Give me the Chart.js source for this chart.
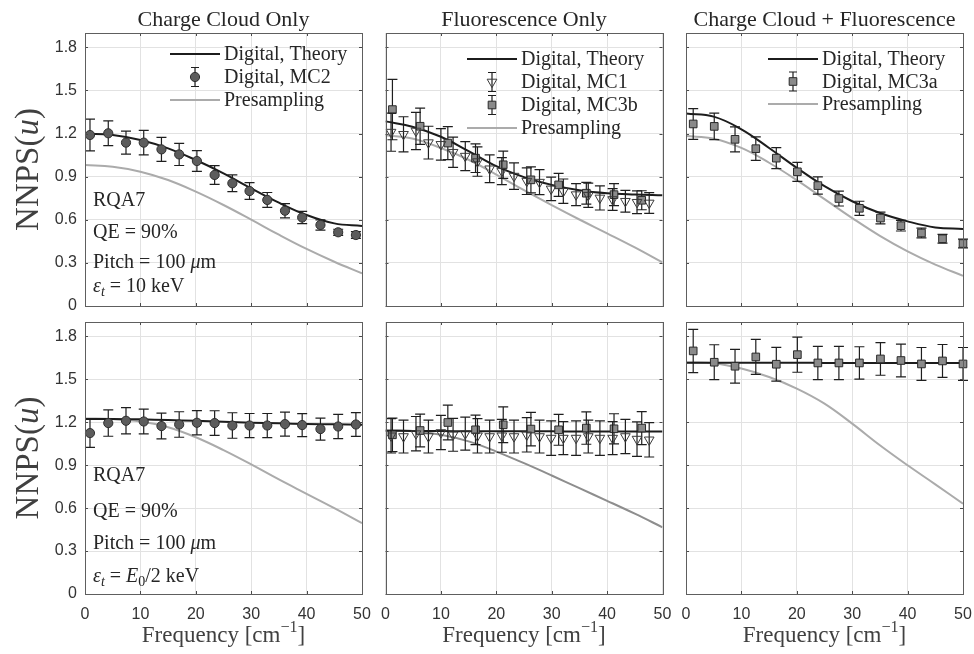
<!DOCTYPE html>
<html>
<head>
<meta charset="utf-8">
<script src="https://cdn.jsdelivr.net/npm/chart.js@4/dist/chart.umd.min.js"></script>
<style>
  html, body { margin: 0; padding: 0; background: #ffffff; }
  #wrap { position: relative; width: 974px; height: 654px; overflow: hidden; background: #fff; }
  #wrap canvas { position: absolute; left: 0; top: 0; }
</style>
</head>
<body>
<div id="wrap"></div>
<script>
// ---------------- DATA ----------------
const xTickValues = [0, 10, 20, 30, 40, 50];
const yTickValues = [0, 0.3, 0.6, 0.9, 1.2, 1.5, 1.8];
const columnTitles = ['Charge Cloud Only', 'Fluorescence Only', 'Charge Cloud + Fluorescence'];

// frequency grid of the smooth curves
const curveFreq = [0, 5, 10, 15, 20, 25, 30, 35, 40, 45, 50];

// MC sample frequencies
const mc2Freq  = [0.9, 4.2, 7.4, 10.6, 13.8, 17.0, 20.2, 23.4, 26.6, 29.7, 32.9, 36.1, 39.2, 42.5, 45.7, 48.9];
const mc1Freq  = [1.0, 3.25, 5.5, 7.75, 10.0, 12.2, 14.4, 16.6, 18.8, 21.0, 23.2, 25.5, 27.8, 29.9, 32.1, 34.4, 36.6, 38.7, 41.0, 43.3, 45.4, 47.6];
const mc3bFreq = [1.25, 6.25, 11.25, 16.25, 21.25, 26.25, 31.25, 36.25, 41.25, 46.25];
const mc3aFreq = [1.3, 5.1, 8.85, 12.6, 16.3, 20.1, 23.8, 27.6, 31.3, 35.1, 38.8, 42.5, 46.3, 50.0];

// Top row: eps_t = 10 keV
const ccTheory       = [1.198, 1.19, 1.155, 1.097, 1.016, 0.923, 0.819, 0.719, 0.633, 0.575, 0.557];
const ccPresampling  = [0.981, 0.969, 0.935, 0.877, 0.796, 0.703, 0.601, 0.496, 0.397, 0.308, 0.227];
const ccMC2          = [1.19, 1.202, 1.137, 1.137, 1.09, 1.055, 1.009, 0.912, 0.854, 0.8, 0.738, 0.663, 0.616, 0.564, 0.513, 0.494];
const ccMC2Err       = [0.11, 0.086, 0.08, 0.085, 0.084, 0.077, 0.072, 0.065, 0.058, 0.058, 0.052, 0.049, 0.042, 0.036, 0.021, 0.023];

const flTheory       = [1.285, 1.246, 1.178, 1.078, 0.973, 0.897, 0.843, 0.806, 0.785, 0.776, 0.771];
const flPresampling  = [1.188, 1.164, 1.10, 1.018, 0.915, 0.806, 0.702, 0.602, 0.506, 0.408, 0.303];
const flMC1          = [1.21, 1.195, 1.218, 1.137, 1.125, 1.07, 1.043, 1.005, 0.955, 0.939, 0.904, 0.869, 0.862, 0.815, 0.799, 0.775, 0.771, 0.752, 0.741, 0.729, 0.722, 0.717];
const flMC1Err       = [0.133, 0.122, 0.13, 0.114, 0.11, 0.105, 0.101, 0.102, 0.097, 0.094, 0.092, 0.093, 0.087, 0.082, 0.085, 0.076, 0.084, 0.084, 0.076, 0.076, 0.079, 0.072];
const flMC3b         = [1.367, 1.251, 1.134, 1.029, 0.983, 0.878, 0.843, 0.785, 0.775, 0.736];
const flMC3bErr      = [0.21, 0.126, 0.115, 0.1, 0.095, 0.09, 0.08, 0.076, 0.076, 0.066];

const bothTheory      = [1.339, 1.318, 1.23, 1.10, 0.962, 0.834, 0.729, 0.647, 0.589, 0.547, 0.536];
const bothPresampling = [1.183, 1.164, 1.10, 0.997, 0.876, 0.744, 0.612, 0.488, 0.38, 0.288, 0.21];
const bothMC3a        = [1.267, 1.25, 1.16, 1.095, 1.029, 0.934, 0.838, 0.748, 0.68, 0.612, 0.559, 0.508, 0.468, 0.435];
const bothMC3aErr     = [0.107, 0.092, 0.087, 0.082, 0.073, 0.066, 0.06, 0.052, 0.049, 0.041, 0.037, 0.034, 0.03, 0.031];

// Bottom row: eps_t = E0/2 keV
const ccE0Theory      = [1.222, 1.222, 1.22, 1.215, 1.21, 1.203, 1.197, 1.192, 1.188, 1.185, 1.182];
const ccE0Presampling = [1.226, 1.222, 1.205, 1.165, 1.095, 1.005, 0.905, 0.8, 0.7, 0.6, 0.495];
const ccE0MC2         = [1.124, 1.194, 1.21, 1.205, 1.173, 1.184, 1.196, 1.194, 1.177, 1.177, 1.177, 1.187, 1.18, 1.152, 1.17, 1.184];
const ccE0MC2Err      = [0.1, 0.092, 0.092, 0.087, 0.09, 0.089, 0.085, 0.086, 0.089, 0.084, 0.084, 0.084, 0.08, 0.077, 0.085, 0.083];

const flE0Theory      = [1.14, 1.139, 1.138, 1.137, 1.137, 1.136, 1.136, 1.135, 1.135, 1.135, 1.135];
const flE0Presampling = [1.142, 1.138, 1.112, 1.066, 0.995, 0.914, 0.828, 0.739, 0.651, 0.561, 0.466];
const flE0MC1         = [1.105, 1.10, 1.12, 1.10, 1.128, 1.112, 1.12, 1.105, 1.10, 1.105, 1.10, 1.112, 1.10, 1.089, 1.089, 1.089, 1.10, 1.089, 1.089, 1.10, 1.082, 1.077];
const flE0MC1Err      = [0.12, 0.115, 0.12, 0.115, 0.12, 0.115, 0.115, 0.12, 0.115, 0.115, 0.115, 0.12, 0.115, 0.12, 0.115, 0.12, 0.115, 0.12, 0.115, 0.12, 0.12, 0.12];
const flE0MC3b        = [1.112, 1.142, 1.198, 1.147, 1.182, 1.152, 1.147, 1.159, 1.154, 1.159];
const flE0MC3bErr     = [0.117, 0.114, 0.122, 0.103, 0.125, 0.117, 0.108, 0.113, 0.105, 0.115];

const bothE0Theory      = [1.616, 1.616, 1.615, 1.615, 1.615, 1.614, 1.614, 1.614, 1.614, 1.614, 1.614];
const bothE0Presampling = [1.617, 1.612, 1.575, 1.516, 1.435, 1.33, 1.19, 1.039, 0.899, 0.766, 0.631];
const bothE0MC3a        = [1.698, 1.619, 1.591, 1.656, 1.605, 1.672, 1.614, 1.614, 1.614, 1.642, 1.631, 1.607, 1.628, 1.607];
const bothE0MC3aErr     = [0.151, 0.122, 0.118, 0.122, 0.118, 0.123, 0.116, 0.116, 0.113, 0.114, 0.114, 0.115, 0.115, 0.115];

// ---------------- STYLE / LAYOUT ----------------
const W = 974, H = 654;
const colL = [85, 385.5, 686], colR = [362, 662.5, 963];
const rowT = [33, 322], rowB = [306, 594];
const Y_AXIS_W = 50, X_AXIS_H = 40;
const SERIF = "'Liberation Serif', 'Times New Roman', serif";
const SANS = "'Liberation Sans', Arial, sans-serif";
const TXT = '#262626';

const styles = {
  circle: { pointStyle: 'circle', radius: 4.6, fill: '#5c5c5c', stroke: '#2e2e2e', rotation: 0 },
  rect:   { pointStyle: 'rect', radius: 5.4, fill: '#8a8a8a', stroke: '#2a2a2a', rotation: 0 },
  tri:    { pointStyle: 'triangle', radius: 5.6, fill: 'rgba(255,255,255,0)', stroke: '#3a3a3a', rotation: 180 }
};

const zip = (xs, ys) => xs.map((x, i) => ({ x: x, y: ys[i] }));

const notesTop = [
  { b: 206, parts: ['RQA7'] },
  { b: 238, parts: ['QE = 90%'] },
  { b: 268, parts: ['Pitch = 100 ', { t: 'μ', it: true }, 'm'] },
  { b: 292, parts: [{ t: 'ε', it: true }, { t: 't', it: true, sub: true }, ' = 10 keV'] }
];
const notesBottom = [
  { b: 481, parts: ['RQA7'] },
  { b: 517, parts: ['QE = 90%'] },
  { b: 549, parts: ['Pitch = 100 ', { t: 'μ', it: true }, 'm'] },
  { b: 582, parts: [{ t: 'ε', it: true }, { t: 't', it: true, sub: true }, ' = ', { t: 'E', it: true }, { t: '0', sub: true }, '/2 keV'] }
];

const panels = [
  { col: 0, row: 0, theory: ccTheory, pres: ccPresampling, presColor: '#ababab',
    series: [{ label: 'Digital, MC2', x: mc2Freq, y: ccMC2, err: ccMC2Err, style: 'circle' }],
    legend: { x: 170, y: 54, gap: 23 }, notes: notesTop },
  { col: 1, row: 0, theory: flTheory, pres: flPresampling, presColor: '#ababab',
    series: [{ label: 'Digital, MC1', x: mc1Freq, y: flMC1, err: flMC1Err, style: 'tri' },
             { label: 'Digital, MC3b', x: mc3bFreq, y: flMC3b, err: flMC3bErr, style: 'rect' }],
    legend: { x: 467, y: 59, gap: 23 } },
  { col: 2, row: 0, theory: bothTheory, pres: bothPresampling, presColor: '#ababab',
    series: [{ label: 'Digital, MC3a', x: mc3aFreq, y: bothMC3a, err: bothMC3aErr, style: 'rect' }],
    legend: { x: 768, y: 59, gap: 22.5 } },
  { col: 0, row: 1, theory: ccE0Theory, pres: ccE0Presampling, presColor: '#ababab',
    series: [{ label: 'Digital, MC2', x: mc2Freq, y: ccE0MC2, err: ccE0MC2Err, style: 'circle' }],
    notes: notesBottom },
  { col: 1, row: 1, theory: flE0Theory, pres: flE0Presampling, presColor: '#8e8e8e',
    series: [{ label: 'Digital, MC1', x: mc1Freq, y: flE0MC1, err: flE0MC1Err, style: 'tri' },
             { label: 'Digital, MC3b', x: mc3bFreq, y: flE0MC3b, err: flE0MC3bErr, style: 'rect' }] },
  { col: 2, row: 1, theory: bothE0Theory, pres: bothE0Presampling, presColor: '#ababab',
    series: [{ label: 'Digital, MC3a', x: mc3aFreq, y: bothE0MC3a, err: bothE0MC3aErr, style: 'rect' }] }
];

// ---------------- HELPERS ----------------
function drawRich(ctx, parts, x, y, size, align, color) {
  const segs = parts.map(p => {
    const s = (typeof p === 'string') ? { t: p } : p;
    const fs = (s.sub || s.sup) ? size * 0.7 : size;
    const font = (s.it ? 'italic ' : '') + fs + 'px ' + SERIF;
    ctx.font = font;
    return Object.assign({}, s, { fs: fs, font: font, w: ctx.measureText(s.t).width });
  });
  const total = segs.reduce((a, s) => a + s.w, 0);
  let cx = align === 'center' ? x - total / 2 : (align === 'right' ? x - total : x);
  ctx.textAlign = 'left';
  ctx.textBaseline = 'alphabetic';
  ctx.fillStyle = color;
  segs.forEach(s => {
    ctx.font = s.font;
    const dy = s.sub ? size * 0.22 : (s.sup ? -size * 0.42 : 0);
    ctx.fillText(s.t, cx, y + dy);
    cx += s.w;
  });
}

function drawMarker(ctx, st, x, y) {
  ctx.save();
  ctx.fillStyle = st.fill;
  ctx.strokeStyle = st.stroke;
  ctx.lineWidth = 1;
  ctx.beginPath();
  if (st.pointStyle === 'circle') {
    ctx.arc(x, y, st.radius, 0, Math.PI * 2);
  } else if (st.pointStyle === 'rect') {
    const h = st.radius * Math.SQRT1_2;
    ctx.rect(x - h, y - h, 2 * h, 2 * h);
  } else {
    const r = st.radius;
    ctx.moveTo(x, y + r);
    ctx.lineTo(x - r * Math.sin(Math.PI / 3), y - r * 0.5);
    ctx.lineTo(x + r * Math.sin(Math.PI / 3), y - r * 0.5);
    ctx.closePath();
  }
  ctx.fill();
  ctx.stroke();
  ctx.restore();
}

function drawErrBar(ctx, x, yLo, yHi, cap) {
  ctx.beginPath();
  ctx.moveTo(x, yLo); ctx.lineTo(x, yHi);
  ctx.moveTo(x - cap, yLo); ctx.lineTo(x + cap, yLo);
  ctx.moveTo(x - cap, yHi); ctx.lineTo(x + cap, yHi);
  ctx.stroke();
}

const fmt = v => (Math.abs(v) < 1e-9 ? '0' : v.toFixed(1));

// ---------------- BUILD ----------------
const wrap = document.getElementById('wrap');

panels.forEach((p, pi) => {
  const L = colL[p.col], R = colR[p.col], T = rowT[p.row], B = rowB[p.row];
  const canvas = document.createElement('canvas');
  canvas.width = W; canvas.height = H;
  canvas.style.width = W + 'px'; canvas.style.height = H + 'px';
  wrap.appendChild(canvas);

  const datasets = [];
  p.series.forEach(s => {
    const st = styles[s.style];
    datasets.push({
      label: s.label,
      data: zip(s.x, s.y),
      errors: s.err,
      showLine: false,
      pointStyle: st.pointStyle,
      pointRotation: st.rotation,
      pointRadius: st.radius,
      pointBackgroundColor: st.fill,
      pointBorderColor: st.stroke,
      pointBorderWidth: 1,
      clip: false
    });
  });
  datasets.push({
    label: 'Digital, Theory',
    data: zip(curveFreq, p.theory),
    showLine: true, pointRadius: 0, borderColor: '#1c1c1c', borderWidth: 2,
    tension: 0.4, fill: false
  });
  datasets.push({
    label: 'Presampling',
    data: zip(curveFreq, p.pres),
    showLine: true, pointRadius: 0, borderColor: p.presColor, borderWidth: 2,
    tension: 0.4, fill: false
  });

  const decor = {
    id: 'decor' + pi,
    beforeDatasetDraw(chart, args) {
      const ds = chart.data.datasets[args.index];
      if (!ds.errors) return;
      const xs = chart.scales.x, ys = chart.scales.y, ctx = chart.ctx;
      ctx.save();
      ctx.strokeStyle = '#1e1e1e';
      ctx.lineWidth = 1.2;
      ds.data.forEach((pt, i) => {
        const px = xs.getPixelForValue(pt.x);
        drawErrBar(ctx, px, ys.getPixelForValue(pt.y - ds.errors[i]), ys.getPixelForValue(pt.y + ds.errors[i]), 5);
      });
      ctx.restore();
    },
    afterDraw(chart) {
      const ctx = chart.ctx, a = chart.chartArea, xs = chart.scales.x, ys = chart.scales.y;
      ctx.save();
      // inward ticks
      ctx.strokeStyle = '#4a4a4a';
      ctx.lineWidth = 1;
      ctx.beginPath();
      xTickValues.forEach(v => {
        const px = Math.round(xs.getPixelForValue(v)) + 0.5;
        ctx.moveTo(px, a.bottom); ctx.lineTo(px, a.bottom - 3);
        ctx.moveTo(px, a.top); ctx.lineTo(px, a.top + 3);
      });
      yTickValues.forEach(v => {
        const py = Math.round(ys.getPixelForValue(v)) + 0.5;
        ctx.moveTo(a.left, py); ctx.lineTo(a.left + 3, py);
        ctx.moveTo(a.right, py); ctx.lineTo(a.right - 3, py);
      });
      ctx.stroke();
      // box
      ctx.strokeStyle = '#5e5e5e';
      ctx.strokeRect(Math.round(a.left) + 0.5, Math.round(a.top) + 0.5, Math.round(a.right - a.left), Math.round(a.bottom - a.top));

      // column title
      if (p.row === 0) {
        drawRich(ctx, [columnTitles[p.col]], (a.left + a.right) / 2, T - 7, 22, 'center', TXT);
      }
      // y title
      if (p.col === 0) {
        ctx.save();
        ctx.translate(38, (a.top + a.bottom) / 2);
        ctx.rotate(-Math.PI / 2);
        drawRich(ctx, ['NNPS(', { t: 'u', it: true }, ')'], 0, 0, 33, 'center', '#404040');
        ctx.restore();
      }
      // x title
      if (p.row === 1) {
        drawRich(ctx, ['Frequency [cm', { t: '−1', sup: true }, ']'], (a.left + a.right) / 2, 642, 23, 'center', '#404040');
      }
      // notes
      if (p.notes) {
        p.notes.forEach(n => drawRich(ctx, n.parts, 93, n.b, 20, 'left', TXT));
      }
      // legend
      if (p.legend) {
        const lg = p.legend;
        const items = [{ kind: 'line', color: '#1c1c1c', label: 'Digital, Theory' }];
        p.series.forEach(s => items.push({ kind: 'marker', style: styles[s.style], label: s.label }));
        items.push({ kind: 'line', color: p.presColor, label: 'Presampling' });
        items.forEach((it, k) => {
          const cy = lg.y + k * lg.gap;
          if (it.kind === 'line') {
            ctx.strokeStyle = it.color; ctx.lineWidth = 2;
            ctx.beginPath(); ctx.moveTo(lg.x, cy); ctx.lineTo(lg.x + 50, cy); ctx.stroke();
          } else {
            const mx = lg.x + 25;
            ctx.strokeStyle = '#1e1e1e'; ctx.lineWidth = 1.2;
            drawErrBar(ctx, mx, cy + 9.5, cy - 9.5, 4);
            drawMarker(ctx, it.style, mx, cy);
          }
          drawRich(ctx, [it.label], lg.x + 54, cy + 6, 20, 'left', TXT);
        });
      }
      ctx.restore();
    }
  };

  new Chart(canvas, {
    type: 'scatter',
    data: { datasets: datasets },
    options: {
      responsive: false,
      animation: false,
      devicePixelRatio: 1,
      events: [],
      layout: { padding: { left: L - Y_AXIS_W, right: W - R, top: T, bottom: H - B - X_AXIS_H } },
      plugins: { legend: { display: false }, tooltip: { enabled: false }, title: { display: false } },
      scales: {
        x: {
          type: 'linear', min: 0, max: 50,
          afterFit: s => { s.height = X_AXIS_H; s.paddingLeft = 0; s.paddingRight = 0; },
          afterBuildTicks: s => { s.ticks = xTickValues.map(v => ({ value: v })); },
          ticks: { display: p.row === 1, padding: 11, color: '#333333', font: { family: SANS, size: 16 }, maxRotation: 0, autoSkip: false },
          grid: { color: '#e2e2e2', lineWidth: 1, drawTicks: false },
          border: { display: false }
        },
        y: {
          type: 'linear', min: 0, max: 1.9,
          afterFit: s => { s.width = Y_AXIS_W; s.paddingTop = 0; s.paddingBottom = 0; },
          afterBuildTicks: s => { s.ticks = yTickValues.map(v => ({ value: v })); },
          ticks: { display: p.col === 0, padding: 8, color: '#333333', font: { family: SANS, size: 16 }, callback: v => fmt(v), autoSkip: false },
          grid: { color: '#e2e2e2', lineWidth: 1, drawTicks: false },
          border: { display: false }
        }
      }
    },
    plugins: [decor]
  });
});
</script>
</body>
</html>
